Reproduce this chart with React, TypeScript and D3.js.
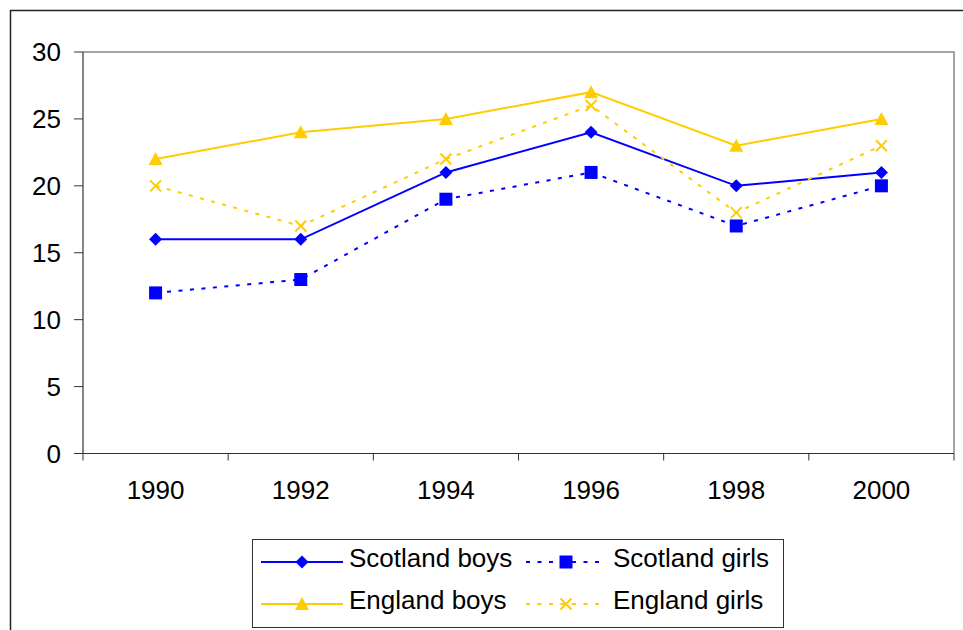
import React from "react";
import * as d3 from "d3";

const years = ["1990", "1992", "1994", "1996", "1998", "2000"];
const scotlandBoys = [16, 16, 21, 24, 20, 21];
const scotlandGirls = [12, 13, 19, 21, 17, 20];
const englandBoys = [22, 24, 25, 27, 23, 25];
const englandGirls = [20, 17, 22, 26, 18, 23];
const yTicks = [0, 5, 10, 15, 20, 25, 30];

const BLUE = "#0000FF";
const YELLOW = "#FFCC00";

type Series = { name: string; values: number[]; color: string; dash: string | null; marker: string };

const series: Series[] = [
  { name: "Scotland boys", values: scotlandBoys, color: BLUE, dash: null, marker: "diamond" },
  { name: "Scotland girls", values: scotlandGirls, color: BLUE, dash: "4,7.5", marker: "square" },
  { name: "England boys", values: englandBoys, color: YELLOW, dash: null, marker: "triangle" },
  { name: "England girls", values: englandGirls, color: YELLOW, dash: "4,7.5", marker: "x" },
];

function Marker({ kind, x, y, color }: { kind: string; x: number; y: number; color: string }) {
  if (kind === "diamond") {
    const r = 6.5;
    return <path d={`M${x},${y - r}L${x + r},${y}L${x},${y + r}L${x - r},${y}Z`} fill={color} />;
  }
  if (kind === "square") {
    const r = 6.5;
    return <rect x={x - r} y={y - r} width={2 * r} height={2 * r} fill={color} />;
  }
  if (kind === "triangle") {
    const w = 7, h = 12;
    return <path d={`M${x},${y - h / 2 - 1}L${x + w},${y + h / 2}L${x - w},${y + h / 2}Z`} fill={color} />;
  }
  const r = 5.5;
  return (
    <path
      d={`M${x - r},${y - r}L${x + r},${y + r}M${x - r},${y + r}L${x + r},${y - r}`}
      stroke={color}
      strokeWidth={2}
      fill="none"
    />
  );
}

export default function App() {
  const W = 963, H = 630;
  const left = 83, right = 954, top = 52, bottom = 453.5;
  const x = d3.scaleBand<string>().domain(years).range([left, right]).padding(0);
  const y = d3.scaleLinear().domain([0, 30]).range([bottom, top]);
  const cx = (yr: string) => (x(yr) as number) + x.bandwidth() / 2;
  const line = d3
    .line<number>()
    .x((_, i) => cx(years[i]))
    .y((d) => y(d));

  const boundaries = years.map((yr) => x(yr) as number).concat([right]);

  const legendItems = [
    { s: series[0], lx: 261, lw: 82, mx: 302, tx: 349, ly: 562, ty: 567 },
    { s: series[1], lx: 526, lw: 77, mx: 566, tx: 613, ly: 562, ty: 567 },
    { s: series[2], lx: 261, lw: 82, mx: 302, tx: 349, ly: 604, ty: 609 },
    { s: series[3], lx: 526, lw: 77, mx: 566, tx: 613, ly: 604, ty: 609 },
  ];

  return (
    <svg
      width={W}
      height={H}
      style={{ position: "absolute", left: 0, top: 0, display: "block", background: "#fff" }}
      fontFamily="'Liberation Sans', Arial, sans-serif"
    >
      <rect x={0} y={0} width={W} height={H} fill="#fff" />
      {/* outer frame */}
      <path d={`M10.5,${H + 5}V10.5H${W + 5}`} stroke="#222" strokeWidth={1.5} fill="none" />
      {/* plot area top/right border */}
      <path d={`M${left},${top}H${right}V${bottom}`} stroke="#888" strokeWidth={1.5} fill="none" />
      {/* y axis */}
      <line x1={left} x2={left} y1={top} y2={bottom} stroke="#333" strokeWidth={1.2} />
      {yTicks.map((t) => (
        <g key={t}>
          <line x1={74} x2={left} y1={y(t)} y2={y(t)} stroke="#333" strokeWidth={1} />
          <text x={61} y={y(t)} dy="0.36em" textAnchor="end" fontSize={26} fill="#000">
            {t}
          </text>
        </g>
      ))}
      {/* x axis */}
      <line x1={left} x2={right} y1={bottom} y2={bottom} stroke="#333" strokeWidth={1.2} />
      {boundaries.map((b, i) => (
        <line key={i} x1={b} x2={b} y1={bottom} y2={bottom + 7} stroke="#333" strokeWidth={1} />
      ))}
      {years.map((yr) => (
        <text key={yr} x={cx(yr)} y={499} textAnchor="middle" fontSize={26} fill="#000">
          {yr}
        </text>
      ))}
      {/* series */}
      {series.map((s) => (
        <g key={s.name}>
          <path
            d={line(s.values) || ""}
            fill="none"
            stroke={s.color}
            strokeWidth={2}
            strokeDasharray={s.dash || undefined}
          />
          {s.values.map((v, i) => (
            <Marker key={i} kind={s.marker} x={cx(years[i])} y={y(v)} color={s.color} />
          ))}
        </g>
      ))}
      {/* legend */}
      <rect x={252.5} y={539.5} width={531} height={88} fill="#fff" stroke="#333" strokeWidth={1} />
      {legendItems.map(({ s, lx, lw, mx, tx, ly, ty }) => (
        <g key={s.name}>
          <line
            x1={lx}
            x2={lx + lw}
            y1={ly}
            y2={ly}
            stroke={s.color}
            strokeWidth={2}
            strokeDasharray={s.dash || undefined}
          />
          <Marker kind={s.marker} x={mx} y={ly} color={s.color} />
          <text x={tx} y={ty} fontSize={26} fill="#000">
            {s.name}
          </text>
        </g>
      ))}
    </svg>
  );
}
